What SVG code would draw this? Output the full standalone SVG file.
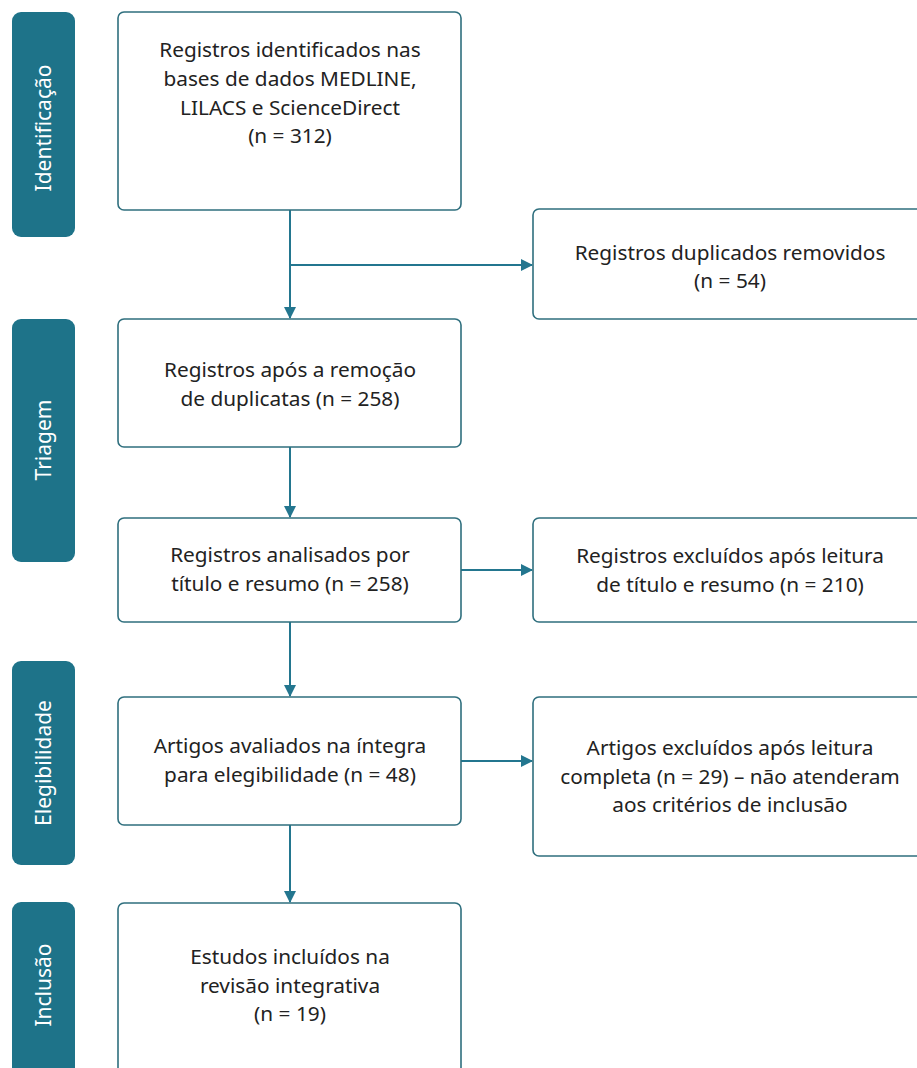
<svg xmlns="http://www.w3.org/2000/svg" width="917" height="1068" viewBox="0 0 917 1068">
<defs>
<marker id="ah" markerWidth="12" markerHeight="12" refX="11" refY="6" orient="auto" markerUnits="userSpaceOnUse">
<path d="M0,0 L12,6 L0,12 Z" fill="#23768f"/>
</marker>
<style>
.tab{fill:#1e7389;}
.tabt{font-family:"Noto Sans","Liberation Sans",sans-serif;font-size:21px;fill:#ffffff;text-anchor:middle;}
.box{fill:#ffffff;stroke:#2f6f7e;stroke-width:1.6;}
.t{font-family:"Noto Sans","Liberation Sans",sans-serif;font-size:20.8px;fill:#222222;text-anchor:middle;}
.c{fill:none;stroke:#23768f;stroke-width:2;}
</style>
</defs>
<rect width="917" height="1068" fill="#ffffff"/>
<g id="tab-identificacao"><rect class="tab" x="12" y="12" width="63" height="225" rx="9"/><text class="tabt" transform="translate(51,128) rotate(-90)">Identificação</text></g>
<g id="tab-triagem"><rect class="tab" x="12" y="319" width="63" height="243" rx="9"/><text class="tabt" transform="translate(51,440) rotate(-90)">Triagem</text></g>
<g id="tab-elegibilidade"><rect class="tab" x="12" y="661" width="63" height="204" rx="9"/><text class="tabt" transform="translate(51,763) rotate(-90)">Elegibilidade</text></g>
<g id="tab-inclusao"><rect class="tab" x="12" y="902" width="63" height="190" rx="9"/><text class="tabt" transform="translate(51,985) rotate(-90)">Inclusão</text></g>
<g id="connectors">
<line class="c" x1="290" y1="210" x2="290" y2="318" marker-end="url(#ah)"/>
<line class="c" x1="290" y1="265" x2="532" y2="265" marker-end="url(#ah)"/>
<line class="c" x1="290" y1="447" x2="290" y2="517" marker-end="url(#ah)"/>
<line class="c" x1="461" y1="570" x2="532" y2="570" marker-end="url(#ah)"/>
<line class="c" x1="290" y1="622" x2="290" y2="696" marker-end="url(#ah)"/>
<line class="c" x1="461" y1="761" x2="532" y2="761" marker-end="url(#ah)"/>
<line class="c" x1="290" y1="825" x2="290" y2="902" marker-end="url(#ah)"/>
</g>
<g id="n1"><rect class="box" x="118" y="12" width="343" height="198" rx="6"/>
<text class="t" x="290" y="57">Registros identificados nas</text>
<text class="t" x="290" y="86">bases de dados MEDLINE,</text>
<text class="t" x="290" y="115">LILACS e ScienceDirect</text>
<text class="t" x="290" y="143">(n = 312)</text></g>
<g id="n2"><rect class="box" x="533" y="209" width="400" height="110" rx="6"/>
<text class="t" x="730" y="260">Registros duplicados removidos</text>
<text class="t" x="730" y="288">(n = 54)</text></g>
<g id="n3"><rect class="box" x="118" y="319" width="343" height="128" rx="6"/>
<text class="t" x="290" y="377">Registros após a remoção</text>
<text class="t" x="290" y="406">de duplicatas (n = 258)</text></g>
<g id="n4"><rect class="box" x="118" y="518" width="343" height="104" rx="6"/>
<text class="t" x="290" y="562">Registros analisados por</text>
<text class="t" x="290" y="591">título e resumo (n = 258)</text></g>
<g id="n5"><rect class="box" x="533" y="518" width="400" height="104" rx="6"/>
<text class="t" x="730" y="563">Registros excluídos após leitura</text>
<text class="t" x="730" y="592">de título e resumo (n = 210)</text></g>
<g id="n6"><rect class="box" x="118" y="697" width="343" height="128" rx="6"/>
<text class="t" x="290" y="753">Artigos avaliados na íntegra</text>
<text class="t" x="290" y="782">para elegibilidade (n = 48)</text></g>
<g id="n7"><rect class="box" x="533" y="697" width="400" height="159" rx="6"/>
<text class="t" x="730" y="755">Artigos excluídos após leitura</text>
<text class="t" x="730" y="784">completa (n = 29) – não atenderam</text>
<text class="t" x="730" y="812">aos critérios de inclusão</text></g>
<g id="n8"><rect class="box" x="118" y="903" width="343" height="190" rx="6"/>
<text class="t" x="290" y="964">Estudos incluídos na</text>
<text class="t" x="290" y="993">revisão integrativa</text>
<text class="t" x="290" y="1021">(n = 19)</text></g>
</svg>
